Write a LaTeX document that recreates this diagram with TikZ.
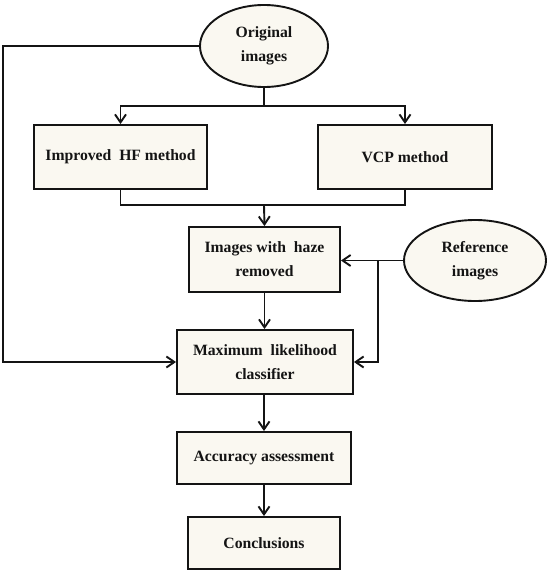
\documentclass[tikz,border=0pt]{standalone}
\usepackage{fontspec}
\setmainfont{Liberation Serif}
\usetikzlibrary{arrows.meta,shapes.geometric}
\definecolor{boxfill}{RGB}{250,248,241}
\definecolor{ink}{RGB}{20,20,20}
\tikzset{
  base/.style={draw=ink, line width=1.9pt, fill=boxfill, align=center, inner sep=0pt,
    font=\fontsize{15.7}{24}\selectfont\bfseries, text=ink},
  boxn/.style={base, rectangle},
  elln/.style={base, ellipse},
  conn/.style={draw=ink, line width=1.9pt},
  arr/.style={conn, -{Straight Barb[length=8pt,width=11pt,line width=1.9pt]}}
}
\begin{document}
\begin{tikzpicture}[x=1pt,y=-1pt]
\useasboundingbox (0,0) rectangle (549,570);
\node[elln, minimum width=128pt, minimum height=82pt] (orig) at (264,46) {Original\\images};
\node[boxn, minimum width=173pt, minimum height=64pt] (hf) at (120.5,157) {Improved\ \ HF method};
\node[boxn, minimum width=174pt, minimum height=64pt] (vcp) at (405,157) {VCP method};
\node[boxn, minimum width=151pt, minimum height=65pt] (img) at (264.5,259.5) {Images with\ \ haze\\removed};
\node[elln, minimum width=142pt, minimum height=81pt] (ref) at (475,260.5) {Reference\\images};
\node[boxn, minimum width=176pt, minimum height=64pt] (max) at (265,362) {Maximum\ \ likelihood\\classifier};
\node[boxn, minimum width=174pt, minimum height=52pt] (acc) at (264,458) {Accuracy assessment};
\node[boxn, minimum width=152pt, minimum height=52pt] (conc) at (264,543) {Conclusions};

\coordinate (j1) at (264,106);
\coordinate (j2) at (264,205);
\coordinate (lc) at (3,362);
\coordinate (jr) at (378,260.5);

\draw[conn] (orig.south) -- (j1);
\draw[arr] (j1) -| (hf.north);
\draw[arr] (j1) -| (vcp.north);
\draw[conn] (hf.south) |- (j2) -| (vcp.south);
\draw[arr] (j2) -- (img.north);
\draw[arr] (orig.west) -| (lc) -- (max.west);
\draw[arr] (ref.west) -- (img.east |- ref.west);
\draw[arr] (jr) |- (max.east);
\draw[arr] (img.south) -- (max.north -| img.south);
\draw[arr] (max.south -| acc.north) -- (acc.north);
\draw[arr] (acc.south) -- (conc.north);
\end{tikzpicture}
\end{document}
